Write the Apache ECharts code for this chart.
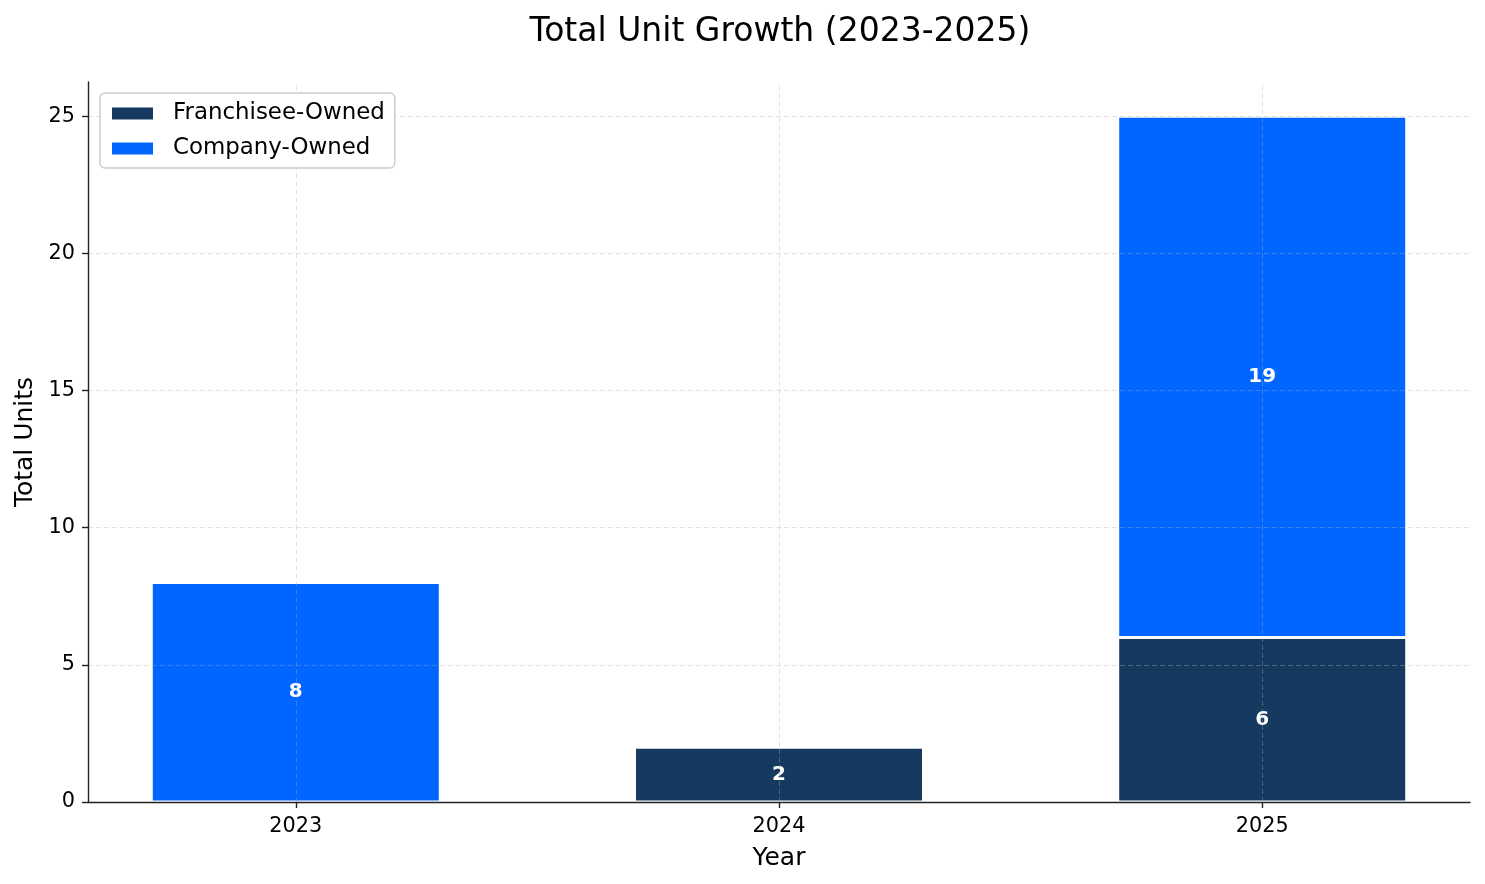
<!DOCTYPE html>
<html>
<head>
<meta charset="utf-8">
<title>Total Unit Growth (2023-2025)</title>
<script src="https://cdn.jsdelivr.net/npm/echarts@6/dist/echarts.min.js"></script>
<style>
  html, body { margin: 0; padding: 0; background: #fff; }
  #chart { width: 1485px; height: 884px; }
</style>
</head>
<body>
<div id="chart"></div>
<script>
const years = ['2023', '2024', '2025']
const franchiseeOwned = [0, 2, 6]
const companyOwned = [8, 0, 19]
const yTicks = [0, 5, 10, 15, 20, 25]

const FONT = 'DejaVu Sans'
const gridLine = { color: 'rgba(176,176,176,0.35)', type: [5, 3], width: 1 }
const axisColor = '#222'

// x is numeric (-0.43 .. 2.43 like matplotlib). value goes first in each pair so
// echarts stacks on the value dimension instead of the x position
const toPoints = arr => arr.map((v, i) => [v, i])

const label = {
  show: true,
  position: 'inside',
  color: '#fff',
  fontFamily: FONT,
  fontWeight: 'bold',
  fontSize: 20,
  formatter: p => p.value[0] > 0 ? p.value[0] : ''
}

const chart = echarts.init(document.getElementById('chart'))
chart.setOption({
  animation: false,
  textStyle: { fontFamily: FONT },
  title: {
    text: 'Total Unit Growth (2023-2025)',
    left: 775,
    textAlign: 'center',
    top: 11,
    textStyle: { fontFamily: FONT, fontWeight: 'normal', fontSize: 33, color: '#000' }
  },
  legend: {
    orient: 'vertical',
    left: 100,
    top: 93,
    z: 20,
    icon: 'rect',
    padding: [9, 10, 8, 10],
    itemGap: 12,
    itemWidth: 43,
    itemHeight: 14,
    borderColor: '#cccccc',
    borderWidth: 1.5,
    borderRadius: 5,
    backgroundColor: '#fff',
    textStyle: { fontFamily: FONT, fontSize: 22.9, color: '#000', padding: [0, 0, 0, 14] },
    data: ['Franchisee-Owned', 'Company-Owned']
  },
  grid: { left: 88, right: 15, top: 82, bottom: 82 },
  xAxis: {
    type: 'value',
    min: -0.43,
    max: 2.43,
    z: 10,
    name: 'Year',
    nameLocation: 'middle',
    nameGap: 44,
    nameTextStyle: { fontFamily: FONT, fontSize: 25, color: '#000' },
    axisLine: { show: true, onZero: false, lineStyle: { color: axisColor, width: 1.4 } },
    axisTick: { show: true, customValues: [0, 1, 2], length: 6, lineStyle: { color: axisColor, width: 1.4 } },
    axisLabel: {
      customValues: [0, 1, 2],
      formatter: v => years[Math.round(v)],
      fontFamily: FONT, fontSize: 20.8, color: '#000', margin: 14
    },
    splitLine: { show: false }
  },
  yAxis: {
    type: 'value',
    min: 0,
    max: 26.25,
    z: 10,
    name: 'Total Units',
    nameLocation: 'middle',
    nameGap: 50,
    nameTextStyle: { fontFamily: FONT, fontSize: 25, color: '#000' },
    axisLine: { show: true, onZero: false, lineStyle: { color: axisColor, width: 1.4 } },
    axisTick: { show: true, customValues: yTicks, length: 6, lineStyle: { color: axisColor, width: 1.4 } },
    axisLabel: {
      customValues: yTicks,
      fontFamily: FONT, fontSize: 20.8, color: '#000', margin: 13
    },
    // matplotlib draws its grid over the bars, hence the raised z
    splitLine: { show: true, lineStyle: gridLine }
  },
  series: [
    {
      name: 'Franchisee-Owned',
      type: 'bar',
      stack: 'units',
      barWidth: 289,
      encode: { x: 1, y: 0 },
      data: toPoints(franchiseeOwned),
      itemStyle: { color: '#15395f', borderColor: '#fff', borderWidth: 1.5 },
      label
    },
    {
      name: 'Company-Owned',
      type: 'bar',
      stack: 'units',
      barWidth: 289,
      encode: { x: 1, y: 0 },
      data: toPoints(companyOwned),
      itemStyle: { color: '#0066ff', borderColor: '#fff', borderWidth: 1.5 },
      label,
      markLine: {
        silent: true,
        symbol: 'none',
        label: { show: false },
        lineStyle: gridLine,
        data: years.map((_, i) => ({ xAxis: i }))
      }
    }
  ]
})
</script>
</body>
</html>
